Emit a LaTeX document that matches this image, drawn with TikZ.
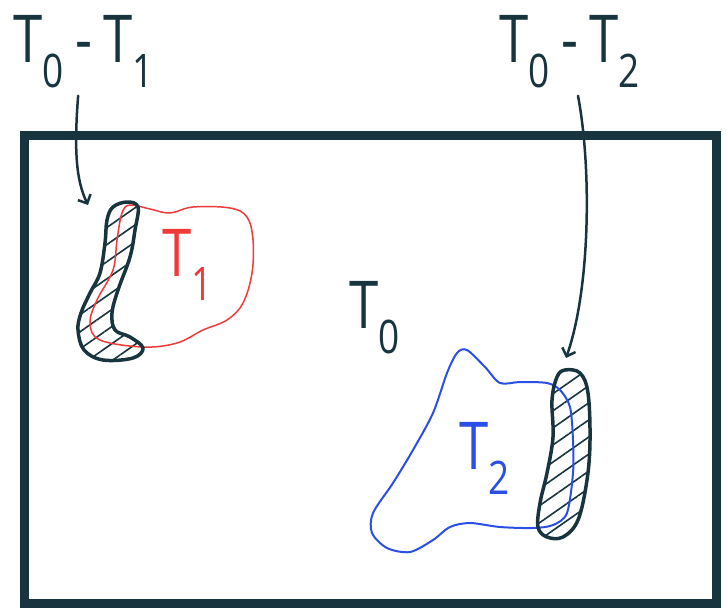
\documentclass[tikz,border=0pt]{standalone}
\usepackage{fontspec}
\setmainfont{Open Sans}
\usetikzlibrary{arrows.meta,patterns.meta}
\definecolor{ink}{HTML}{17343F}
\definecolor{hotred}{HTML}{F03A3A}
\definecolor{coldblue}{HTML}{2A4FE6}
\begin{document}
\begin{tikzpicture}[x=1pt,y=-1pt,
  frame/.style={line width=9pt,ink},
  hatch/.style={pattern={Lines[angle=35,distance=14pt,line width=1.6pt]},pattern color=ink},
  rim/.style={line width=3.5pt,ink,line join=round},
  pointer/.style={line width=2.5pt,ink,line cap=round,-{Straight Barb[length=7pt,width=14pt]}},
  big/.style={font=\fontsize{66}{70}\selectfont\addfontfeature{FakeStretch=0.8}}]
  \useasboundingbox (0,0) rectangle (727,610);
  \draw[frame] (24,135) rectangle (716,603);
  % region T1
  \path[hatch] plot[smooth cycle,tension=0.6] coordinates {(127,202) (138,207) (135,230) (130,257) (118,290) (112,313) (115,330) (130,337) (143,348) (133,358) (103,360) (84,350) (78,330) (81,313) (90,293) (100,273) (105,243) (107,220) (113,207)};
  \draw[hotred,line width=1.5pt] plot[smooth cycle,tension=0.6] coordinates {(130,205) (150,209) (170,213) (193,207) (230,208) (247,217) (253,240) (252,273) (243,303) (227,320) (203,330) (177,343) (143,347) (100,340) (90,323) (97,300) (113,270) (117,240) (122,213)};
  \draw[rim] plot[smooth cycle,tension=0.6] coordinates {(127,202) (138,207) (135,230) (130,257) (118,290) (112,313) (115,330) (130,337) (143,348) (133,358) (103,360) (84,350) (78,330) (81,313) (90,293) (100,273) (105,243) (107,220) (113,207)};
  % region T2
  \path[hatch] plot[smooth cycle,tension=0.6] coordinates {(565,370) (580,373) (588,393) (590,440) (587,480) (578,520) (563,537) (547,537) (538,527) (540,503) (547,473) (553,437) (552,400) (557,377)};
  \draw[coldblue,line width=2pt] plot[smooth cycle,tension=0.5] coordinates {(467,350) (485,367) (500,383) (520,382) (547,383) (560,390) (570,407) (573,440) (573,473) (567,513) (553,525) (533,528) (500,527) (470,523) (450,527) (433,540) (410,552) (387,548) (372,533) (373,513) (393,483) (413,450) (433,413) (447,373) (457,353)};
  \draw[rim] plot[smooth cycle,tension=0.6] coordinates {(565,370) (580,373) (588,393) (590,440) (587,480) (578,520) (563,537) (547,537) (538,527) (540,503) (547,473) (553,437) (552,400) (557,377)};
  \node[big,hotred] (t1) at (188,265) {T\textsubscript{1}};
  \node[big,coldblue] (t2) at (485,458) {T\textsubscript{2}};
  \node[big,ink] (t0) at (375,318) {T\textsubscript{0}};
  \node[big,ink] (lab1) at (84,52) {T\textsubscript{0}\,-\,T\textsubscript{1}};
  \node[big,ink] (lab2) at (570,52) {T\textsubscript{0}\,-\,T\textsubscript{2}};
  \coordinate (end1) at (88,205);
  \coordinate (end2) at (566,358);
  \draw[pointer] (lab1.south west) ++(68,4) coordinate (start1) .. controls (74,150) and (76,180) .. (end1);
  \draw[pointer] (lab2.south) ++(8,4) coordinate (start2) .. controls (592,170) and (590,290) .. (end2);
\end{tikzpicture}
\end{document}
